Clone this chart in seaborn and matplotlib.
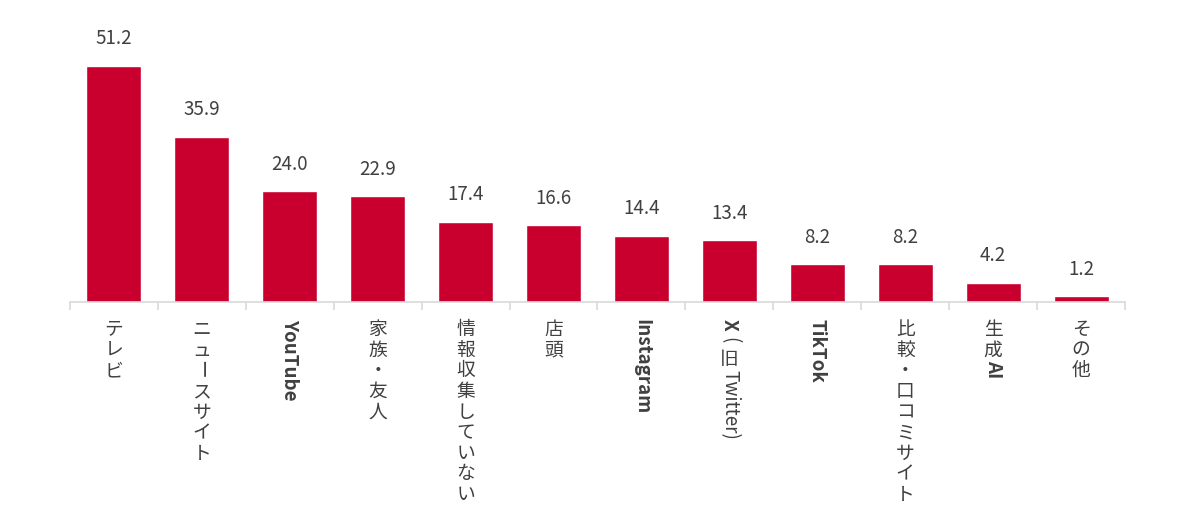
import numpy as np
import pandas as pd
import seaborn as sns
import matplotlib.pyplot as plt

sns.set_theme(style="white")
plt.rcParams["font.family"] = ["Noto Sans CJK JP", "DejaVu Sans"]

categories = ["テレビ", "ニュースサイト", "YouTube", "家族・友人", "情報収集していない", "店頭",
              "Instagram", "X（旧Twitter）", "TikTok", "比較・口コミサイト", "生成AI", "その他"]
values = [51.2, 35.9, 24.0, 22.9, 17.4, 16.6, 14.4, 13.4, 8.2, 8.2, 4.2, 1.2]

# vertical label pieces: (text, rotated, bold)
label_parts = {
    "ニュースサイト": [("ニ", 0, 0), ("ュ", 0, 0), ("ー", 1, 0), ("ス", 0, 0), ("サ", 0, 0), ("イ", 0, 0), ("ト", 0, 0)],
    "YouTube": [("YouTube", 1, 1)],
    "Instagram": [("Instagram", 1, 1)],
    "X（旧Twitter）": [("X", 1, 1), ("(", 1, 0), ("旧", 0, 0), ("Twitter)", 1, 0)],
    "TikTok": [("TikTok", 1, 1)],
    "生成AI": [("生", 0, 0), ("成", 0, 0), ("AI", 1, 1)],
}

bar_color = "#C9002E"
text_color = "#404040"

df = pd.DataFrame({"cat": categories, "val": values})

fig = plt.figure(figsize=(12, 5.11), dpi=100)
ax = fig.add_axes([0.0583, 0.409, 0.8792, 0.552])
sns.barplot(data=df, x="cat", y="val", color=bar_color, width=0.625, saturation=1, ax=ax)

ax.set_xlim(-0.5, len(categories) - 0.5)
ax.set_ylim(0, 61.2)
ax.bar_label(ax.containers[0], fmt="%.1f", padding=12, fontsize=13.5, color=text_color)

for s in ["top", "left", "right"]:
    ax.spines[s].set_visible(False)
ax.spines["bottom"].set_color("#D9D9D9")
ax.spines["bottom"].set_linewidth(1.2)
ax.set_yticks([])
ax.set_xticks(range(len(categories)))
ax.set_xticklabels([])
ax.set_xticks(np.arange(-0.5, len(categories)), minor=True)
ax.tick_params(axis="x", which="major", length=0)
ax.tick_params(axis="x", which="minor", length=6, width=1.2, color="#D9D9D9", bottom=True)
ax.set_xlabel("")
ax.set_ylabel("")

renderer = fig.canvas.get_renderer()
fs = 13.5
step = fs * 100 / 72 * 1.1
for i, cat in enumerate(categories):
    parts = label_parts.get(cat, [(ch, 0, 0) for ch in cat])
    off = -17
    for txt, rot, bold in parts:
        t = ax.annotate(txt, xy=(i, 0), xycoords=("data", "axes fraction"),
                        xytext=(0, off), textcoords="offset pixels",
                        ha="center", va="top", fontsize=fs, color=text_color,
                        rotation=-90 if rot else 0,
                        fontweight="bold" if bold else "normal")
        if rot and txt != "ー":
            off -= t.get_window_extent(renderer).height + 6
        else:
            off -= step

fig.savefig("out.png", dpi=100)
